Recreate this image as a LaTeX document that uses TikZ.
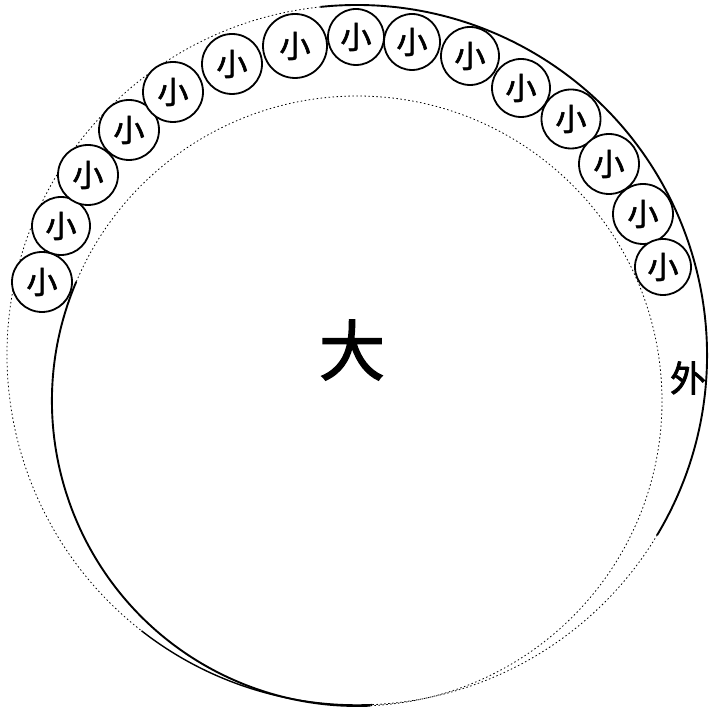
\documentclass[tikz,border=0pt]{standalone}
\usepackage{fontspec}
\newfontfamily\cjk[FakeBold=2]{Noto Sans CJK SC}
\begin{document}
\begin{tikzpicture}[x=1pt,y=1pt,
  small/.style={circle,draw,line width=1.8pt,fill=white,inner sep=0pt,
    font=\cjk\fontsize{31}{31}\selectfont},
  solidarc/.style={line width=1.9pt},
  dotarc/.style={line width=0.8pt,dash pattern=on 1.5pt off 2.5pt}]
\useasboundingbox (0,0) rectangle (714,708);
\fill[white] (0,0) rectangle (714,708);
\coordinate (Cin) at (357,307);
\coordinate (Cout) at (357,353);
% inner (big) circle
\draw[solidarc] ([shift={(157:305pt)}]Cin) arc[start angle=157,end angle=272.5,radius=305pt];
\draw[dotarc] ([shift={(272.5:305pt)}]Cin) arc[start angle=272.5,end angle=517,radius=305pt];
% outer circle
\draw[solidarc] ([shift={(-31:350pt)}]Cout) arc[start angle=-31,end angle=96,radius=350pt];
\draw[dotarc] ([shift={(96:350pt)}]Cout) arc[start angle=96,end angle=232,radius=350pt];
\draw[solidarc,line width=1.4pt] ([shift={(232:350pt)}]Cout) arc[start angle=232,end angle=272.5,radius=350pt];
\draw[dotarc] ([shift={(272.5:350pt)}]Cout) arc[start angle=272.5,end angle=329,radius=350pt];
% small circles
\node[small,minimum size=60pt] (s1) at (42,426) {小};
\node[small,minimum size=58pt] (s2) at (61,482) {小};
\node[small,minimum size=60pt] (s3) at (88,533) {小};
\node[small,minimum size=60pt] (s4) at (129,578) {小};
\node[small,minimum size=60pt] (s5) at (173,616) {小};
\node[small,minimum size=60pt] (s6) at (232,644) {小};
\node[small,minimum size=64pt] (s7) at (295,662) {小};
\node[small,minimum size=56pt] (s8) at (356,671) {小};
\node[small,minimum size=56pt] (s9) at (412,666) {小};
\node[small,minimum size=58pt] (s10) at (470,652) {小};
\node[small,minimum size=58pt] (s11) at (521,620) {小};
\node[small,minimum size=59pt] (s12) at (571,589) {小};
\node[small,minimum size=60pt] (s13) at (609,544) {小};
\node[small,minimum size=60pt] (s14) at (643,494) {小};
\node[small,minimum size=56pt] (s15) at (663,441) {小};
% labels
\node[font=\cjk\fontsize{66}{66}\selectfont,inner sep=0pt] (da) at (352,358) {大};
\node[font=\cjk\fontsize{36}{36}\selectfont,inner sep=0pt] (wai) at (688,330) {外};
\end{tikzpicture}
\end{document}
